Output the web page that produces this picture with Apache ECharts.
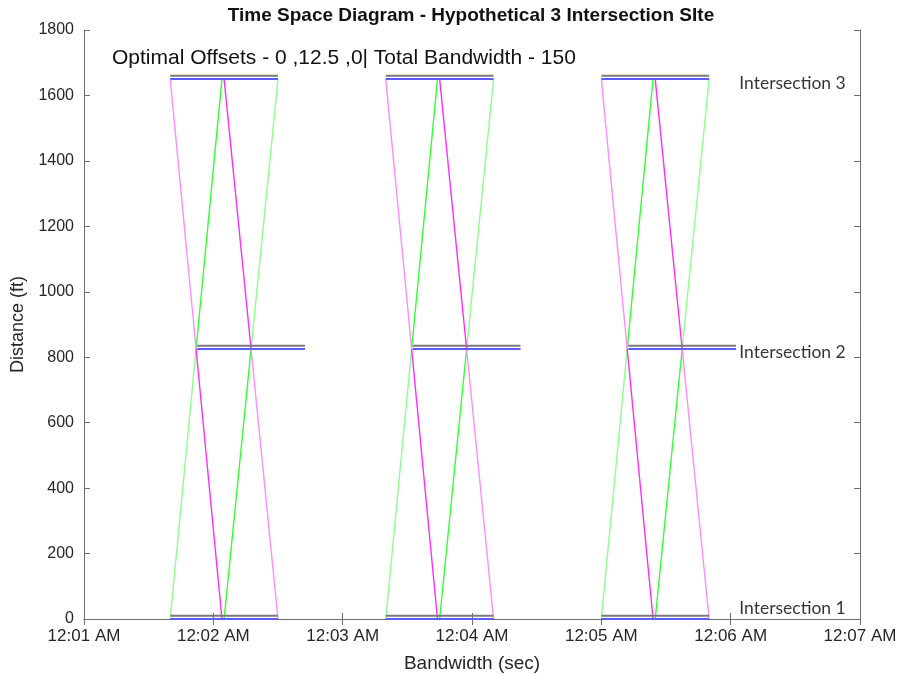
<!DOCTYPE html>
<html>
<head>
<meta charset="utf-8">
<script src="https://cdn.jsdelivr.net/npm/echarts@6/dist/echarts.min.js"></script>
<style>
html,body{margin:0;padding:0;background:#fff;}
#chart{width:901px;height:675px;}
</style>
</head>
<body>
<div id="chart"></div>
<script>
// ---- Data ----
const xTickLabels = ['12:01 AM','12:02 AM','12:03 AM','12:04 AM','12:05 AM','12:06 AM','12:07 AM'];
const yTicks = [0,200,400,600,800,1000,1200,1400,1600,1800];
const intersectionNames = ['Intersection 1','Intersection 2','Intersection 3'];
const intersectionDist = [0, 825, 1650];      // blue signal bars
const referenceDist = [10, 835, 1660];        // grey signal bars
const labelTime = [364, 364, 364];
const labelDist = [34, 815, 1637];
// green phase start / end (sec) at each intersection
const greenStart1 = [100, 200, 300];
const greenEnd1   = [150, 250, 350];
const greenStart2 = [112.5, 212.5, 312.5];
const greenEnd2   = [162.5, 262.5, 362.5];
const greenStart3 = [100, 200, 300];
const greenEnd3   = [150, 250, 350];
// trajectory times at Intersection 1, 2, 3
const nbLeadTimes  = [[100, 112, 124], [200, 212, 224], [300, 312, 324]];
const nbTrailTimes = [[125, 137.5, 150], [225, 237.5, 250], [325, 337.5, 350]];
const sbLeadTimes  = [[124, 112, 100], [224, 212, 200], [324, 312, 300]];
const sbTrailTimes = [[150, 137.5, 125], [250, 237.5, 225], [350, 337.5, 325]];
const titleText = 'Time Space Diagram - Hypothetical 3 Intersection SIte';
const noteText = 'Optimal Offsets - 0 ,12.5 ,0| Total Bandwidth - 150';

// ---- Styles ----
const C = {
  magLight: '#ff8cff', magDark: '#ff2cff',
  grnLight: '#8cff8c', grnDark: '#33ff33',
  grey: '#7a7a7a', blue: '#5c5cff', axis: '#6e6e6e', text: '#262626'
};

const series = [];
function seg(p1, p2, color, w) {
  series.push({
    type: 'line', data: [p1, p2], symbol: 'none', silent: true,
    lineStyle: { color: color, width: w || 1.4 }, z: 2
  });
}
// trajectories: each has lower (I1-I2) and upper (I2-I3) segments
function traj(list, lowColor, upColor) {
  list.forEach(t => {
    seg([t[0], intersectionDist[0]], [t[1], intersectionDist[1]], lowColor);
    seg([t[1], intersectionDist[1]], [t[2], intersectionDist[2]], upColor);
  });
}
traj(nbLeadTimes, C.grnLight, C.grnDark);
traj(nbTrailTimes, C.grnDark, C.grnLight);
traj(sbLeadTimes, C.magDark, C.magLight);
traj(sbTrailTimes, C.magLight, C.magDark);

// signal bars
const starts = [greenStart1, greenStart2, greenStart3];
const ends = [greenEnd1, greenEnd2, greenEnd3];
for (let i = 0; i < 3; i++) {
  for (let k = 0; k < starts[i].length; k++) {
    series.push({ type: 'line', symbol: 'none', silent: true, z: 3,
      data: [[starts[i][k], referenceDist[i]], [ends[i][k], referenceDist[i]]],
      lineStyle: { color: C.grey, width: 2 } });
    series.push({ type: 'line', symbol: 'none', silent: true, z: 3,
      data: [[starts[i][k], intersectionDist[i]], [ends[i][k], intersectionDist[i]]],
      lineStyle: { color: C.blue, width: 2 } });
  }
}
// intersection labels
series.push({
  type: 'scatter', symbolSize: 0, silent: true, z: 5,
  data: intersectionNames.map((n, i) => [labelTime[i], labelDist[i], n]),
  label: { show: true, position: 'right', distance: 0,
    formatter: p => p.value[2],
    fontFamily: 'Lato', fontSize: 17.5, color: '#000' }
});

const chart = echarts.init(document.getElementById('chart'), null, { renderer: 'canvas' });
const baseAxis = {
  axisLine: { show: true, lineStyle: { color: C.axis, width: 1 } },
  axisTick: { show: true, inside: true, length: 6, lineStyle: { color: C.axis } },
  splitLine: { show: false }
};
chart.setOption({
  animation: false,
  backgroundColor: '#fff',
  title: [
    { text: titleText, left: 471, top: 6, textAlign: 'center', padding: 0,
      textStyle: { fontFamily: 'Liberation Sans, Arial', fontWeight: 'bold', fontSize: 19, color: '#111' } },
    { text: noteText, left: 112, top: 48, padding: 0,
      textStyle: { fontFamily: 'Liberation Sans, Arial', fontWeight: 'normal', fontSize: 21, color: '#111' } }
  ],
  grid: { left: 84, right: 41, top: 30, bottom: 56, containLabel: false, outerBoundsMode: 'none' },
  xAxis: [
    Object.assign({}, baseAxis, {
      type: 'value', min: 60, max: 420, interval: 60, position: 'bottom',
      name: 'Bandwidth (sec)', nameLocation: 'middle', nameGap: 35,
      nameTextStyle: { fontFamily: 'Liberation Sans, Arial', fontSize: 19, color: C.text },
      axisLabel: { margin: 9, fontFamily: 'Liberation Sans, Arial', fontSize: 17, color: C.text,
        formatter: v => xTickLabels[Math.round((v - 60) / 60)] }
    }),
    Object.assign({}, baseAxis, {
      type: 'value', min: 60, max: 420, interval: 60, position: 'top',
      axisLabel: { show: false }
    })
  ],
  yAxis: [
    Object.assign({}, baseAxis, {
      type: 'value', min: yTicks[0], max: yTicks[yTicks.length - 1], interval: 200, position: 'left',
      name: 'Distance (ft)', nameLocation: 'middle', nameGap: 44,
      nameTextStyle: { fontFamily: 'Liberation Sans, Arial', fontSize: 18, color: C.text },
      axisLabel: { margin: 10, fontFamily: 'Liberation Sans, Arial', fontSize: 16, color: C.text,
        formatter: v => String(v) }
    }),
    Object.assign({}, baseAxis, {
      type: 'value', min: yTicks[0], max: yTicks[yTicks.length - 1], interval: 200, position: 'right',
      axisLabel: { show: false }
    })
  ],
  series: series
});
</script>
</body>
</html>
